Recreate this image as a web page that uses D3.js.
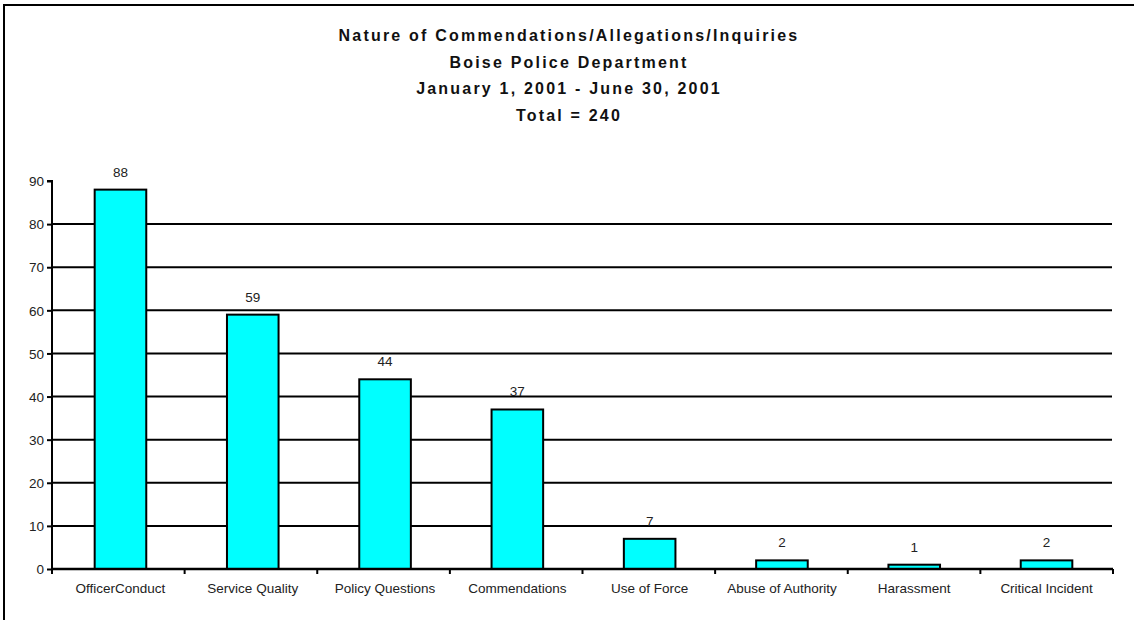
<!DOCTYPE html>
<html>
<head>
<meta charset="utf-8">
<script src="https://cdn.jsdelivr.net/npm/d3@7"></script>
<style>
html,body{margin:0;padding:0;background:#fff;overflow:hidden;}
svg{display:block;}
text{font-family:"Liberation Sans",Arial,sans-serif;}
</style>
</head>
<body>
<svg id="chart" width="1134" height="620"></svg>
<script>
const titleLines = ["Nature of Commendations/Allegations/Inquiries","Boise Police Department","January 1, 2001 - June 30, 2001","Total = 240"];
const categories = ["OfficerConduct","Service Quality","Policy Questions","Commendations","Use of Force","Abuse of Authority","Harassment","Critical Incident"];
const values = [88,59,44,37,7,2,1,2];
const yTicks = [0,10,20,30,40,50,60,70,80,90];

(function(){
const svg = d3.select("#chart");
const pLeft = 52, pRight = 1113, pTop = 181, pBottom = 569;

// frame (only left and top edges visible in the original)
svg.append("rect").attr("x",4).attr("y",5).attr("width",1200).attr("height",700)
  .attr("fill","none").attr("stroke","#000").attr("stroke-width",2);

// title
const titleY = [41,68,94,121];
const tg = svg.append("g");
titleLines.forEach((t,i)=>{
  tg.append("text").attr("x",569).attr("y",titleY[i]).attr("text-anchor","middle")
    .attr("font-size",16).attr("font-weight","bold").attr("fill","#111")
    .attr("letter-spacing","2.2px").text(t);
});

const x = d3.scaleBand().domain(categories).range([pLeft,pRight]).paddingInner(0.61).paddingOuter(0.315);
const y = d3.scaleLinear().domain([0,90]).range([pBottom,pTop]);

// gridlines
svg.append("g").selectAll("line").data(yTicks.filter(d=>d>0&&d<90)).join("line")
  .attr("x1",pLeft).attr("x2",pRight-1).attr("y1",d=>y(d)).attr("y2",d=>y(d))
  .attr("stroke","#000").attr("stroke-width",2);

// bars
svg.append("g").selectAll("rect").data(values).join("rect")
  .attr("x",(d,i)=>x(categories[i])+1).attr("width",x.bandwidth())
  .attr("y",d=>y(d)).attr("height",d=>pBottom-y(d))
  .attr("fill","#00FFFF").attr("stroke","#000").attr("stroke-width",2);

// value labels
svg.append("g").selectAll("text").data(values).join("text")
  .attr("x",(d,i)=>x(categories[i])+1+x.bandwidth()/2).attr("y",d=>y(d)-13)
  .attr("text-anchor","middle").attr("font-size",13.5).attr("fill","#222").text(d=>d);

// y axis
const yAxis = d3.axisLeft(y).tickValues(yTicks).tickSize(5).tickPadding(3).tickFormat(d3.format("d"));
const ya = svg.append("g").attr("transform",`translate(${pLeft},0)`).call(yAxis);
ya.select(".domain").attr("stroke","#000").attr("stroke-width",2).attr("d",`M-5,${pTop}H0V${pBottom}`);
ya.selectAll(".tick line").attr("stroke","#000").attr("stroke-width",2);
ya.selectAll(".tick text").attr("font-size",13.5).attr("fill","#222").attr("font-family","Liberation Sans, Arial, sans-serif").attr("dy","0.35em");

// x axis
const xb = d3.scalePoint().domain(d3.range(categories.length+1)).range([pLeft,pRight]);
svg.append("line").attr("x1",pLeft).attr("x2",pRight).attr("y1",pBottom).attr("y2",pBottom)
  .attr("stroke","#000").attr("stroke-width",2.5);
svg.append("g").selectAll("line").data(d3.range(categories.length+1)).join("line")
  .attr("x1",d=>xb(d)).attr("x2",d=>xb(d)).attr("y1",pBottom).attr("y2",pBottom+5)
  .attr("stroke","#000").attr("stroke-width",2);
svg.append("g").selectAll("text").data(categories).join("text")
  .attr("x",d=>x(d)+1+x.bandwidth()/2).attr("y",593).attr("text-anchor","middle")
  .attr("font-size",13.5).attr("fill","#222").text(d=>d);
})();
</script>
</body>
</html>
